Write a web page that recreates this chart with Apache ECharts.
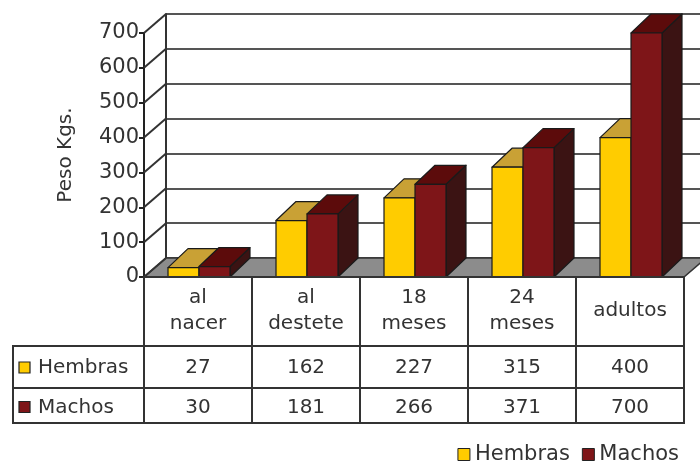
<!DOCTYPE html>
<html>
<head>
<meta charset="utf-8">
<script src="https://cdn.jsdelivr.net/npm/echarts@6/dist/echarts.min.js"></script>
<style>html,body{margin:0;padding:0;background:#fff;}#c{width:700px;height:462px;}</style>
</head>
<body>
<div id="c"></div>
<script>
const categories = ['al\nnacer', 'al\ndestete', '18\nmeses', '24\nmeses', 'adultos'];
const seriesNames = ['Hembras', 'Machos'];
const hembras = [27, 162, 227, 315, 400];
const machos = [30, 181, 266, 371, 700];
const yTicks = [0, 100, 200, 300, 400, 500, 600, 700];

const FONT = 'DejaVu Sans';
const TXT = '#333';
const WDX = 22, WDY = -19;   // wall depth
const BDX = 20, BDY = -19;   // bar depth
const colors = {
  Hembras: { front: '#FFCC00', top: '#C9A135', side: '#8A6A10' },
  Machos: { front: '#7E1518', top: '#5C0B0B', side: '#3B1313' }
};

const chart = echarts.init(document.getElementById('c'), null, { renderer: 'canvas' });

function frameItem(params, api) {
  const v = api.value(1);
  const band = api.size([1, 0])[0];
  const p = api.coord([0, v]);
  const lx = p[0] - band / 2;
  const children = [];
  if (v === 0) {
    const rx = api.coord([categories.length - 1, 0])[0] + band / 2;
    children.push({
      type: 'polygon',
      shape: { points: [[lx, p[1]], [rx, p[1]], [rx + WDX, p[1] + WDY], [lx + WDX, p[1] + WDY]] },
      style: { fill: '#8C8C8C', stroke: '#333', lineWidth: 1.5 }
    });
  }
  children.push({
    type: 'line',
    shape: { x1: lx, y1: p[1], x2: lx + WDX, y2: p[1] + WDY },
    style: { stroke: '#333', lineWidth: 2 }
  });
  return { type: 'group', children };
}

function barItem(name) {
  return function (params, api) {
    const idx = api.value(0), val = api.value(1);
    const base = api.coord([idx, 0]);
    const top = api.coord([idx, val]);
    const band = api.size([1, 0])[0];
    const w = band * 0.287;
    const x0 = name === 'Hembras' ? base[0] + 1 - w : base[0] + 1;
    const c = colors[name];
    const st = { stroke: '#1a1a1a', lineWidth: 1.2, lineJoin: 'round' };
    return {
      type: 'group',
      children: [
        { type: 'polygon', shape: { points: [[x0 + w, top[1]], [x0 + w + BDX, top[1] + BDY], [x0 + w + BDX, base[1] + BDY], [x0 + w, base[1]]] }, style: Object.assign({ fill: c.side }, st) },
        { type: 'polygon', shape: { points: [[x0, top[1]], [x0 + w, top[1]], [x0 + w + BDX, top[1] + BDY], [x0 + BDX, top[1] + BDY]] }, style: Object.assign({ fill: c.top }, st) },
        { type: 'rect', shape: { x: x0, y: top[1], width: w, height: base[1] - top[1] }, style: Object.assign({ fill: c.front }, st) }
      ]
    };
  };
}

function tableItem(params, api) {
  const idx = api.value(0);
  const band = api.size([1, 0])[0];
  const p = api.coord([idx, 0]);
  const l = p[0] - band / 2, r = p[0] + band / 2;
  const y0 = p[1], y1 = y0 + 69, y2 = y0 + 111, y3 = y0 + 146;
  const ls = { stroke: '#333', lineWidth: 2, fill: null };
  const ch = [];
  const cell = (x, y, w, h) => ch.push({ type: 'rect', shape: { x, y, width: w, height: h }, style: Object.assign({}, ls) });
  cell(l, y0, band, y1 - y0);
  cell(l, y1, band, y2 - y1);
  cell(l, y2, band, y3 - y2);
  const ts = { fontFamily: FONT, fontSize: 20, fill: TXT, align: 'center', verticalAlign: 'middle' };
  ch.push({ type: 'text', style: Object.assign({ text: categories[idx], x: p[0], y: (y0 + y1) / 2 - 1, lineHeight: 26 }, ts) });
  ch.push({ type: 'text', style: Object.assign({ text: String(hembras[idx]), x: p[0], y: (y1 + y2) / 2 + 1 }, ts) });
  ch.push({ type: 'text', style: Object.assign({ text: String(machos[idx]), x: p[0], y: (y2 + y3) / 2 + 2 }, ts) });
  if (idx === 0) {
    const tl = 13;
    cell(tl, y1, l - tl, y2 - y1);
    cell(tl, y2, l - tl, y3 - y2);
    const rows = [[seriesNames[0], (y1 + y2) / 2 + 1], [seriesNames[1], (y2 + y3) / 2 + 2]];
    rows.forEach(([n, cy]) => {
      ch.push({ type: 'rect', shape: { x: tl + 6, y: cy - 6, width: 11, height: 11 }, style: { fill: colors[n].front, stroke: '#222', lineWidth: 1.2 } });
      ch.push({ type: 'text', style: { text: n, x: tl + 25, y: cy, fontFamily: FONT, fontSize: 20, fill: TXT, align: 'left', verticalAlign: 'middle' } });
    });
  }
  return { type: 'group', children: ch };
}

chart.setOption({
  animation: false,
  backgroundColor: '#fff',
  grid: [
    { left: 144, top: 33, width: 540, height: 244 },
    { left: 166, top: 14, width: 540, height: 244 }
  ],
  xAxis: [
    { type: 'category', gridIndex: 0, data: categories, show: false },
    { type: 'category', gridIndex: 1, data: categories, show: false }
  ],
  yAxis: [
    {
      type: 'value', gridIndex: 0, min: 0, max: 700, interval: 100,
      axisLine: { show: true, lineStyle: { color: '#222', width: 2 } },
      axisTick: { show: true, length: 5, lineStyle: { color: '#222', width: 2 } },
      axisLabel: { fontFamily: FONT, fontSize: 21, color: TXT, margin: 5 },
      splitLine: { show: false },
      name: 'Peso Kgs.', nameLocation: 'middle', nameRotate: 90, nameGap: 68,
      nameTextStyle: { fontFamily: FONT, fontSize: 20, color: TXT }
    },
    {
      type: 'value', gridIndex: 1, min: 0, max: 700, interval: 100,
      axisLine: { show: true, lineStyle: { color: '#333', width: 2 } },
      axisTick: { show: false }, axisLabel: { show: false },
      splitLine: { show: true, lineStyle: { color: '#555', width: 2 } }
    }
  ],
  legend: {
    data: seriesNames, right: 16, top: 439, itemWidth: 12, itemHeight: 12, itemGap: 12,
    icon: 'rect',
    itemStyle: { borderColor: '#222', borderWidth: 1 },
    textStyle: { fontFamily: FONT, fontSize: 21, color: TXT }
  },
  series: [
    { type: 'custom', name: 'frame', xAxisIndex: 0, yAxisIndex: 0, z: 1, silent: true,
      data: yTicks.map(v => [0, v]), renderItem: frameItem },
    { type: 'custom', name: 'Hembras', xAxisIndex: 0, yAxisIndex: 0, z: 3,
      itemStyle: { color: colors.Hembras.front },
      data: hembras.map((v, i) => [i, v]), renderItem: barItem('Hembras') },
    { type: 'custom', name: 'Machos', xAxisIndex: 0, yAxisIndex: 0, z: 4,
      itemStyle: { color: colors.Machos.front },
      data: machos.map((v, i) => [i, v]), renderItem: barItem('Machos') },
    { type: 'custom', name: 'table', xAxisIndex: 0, yAxisIndex: 0, z: 5, silent: true, clip: false,
      data: categories.map((c, i) => [i, 0]), renderItem: tableItem }
  ]
});
</script>
</body>
</html>
